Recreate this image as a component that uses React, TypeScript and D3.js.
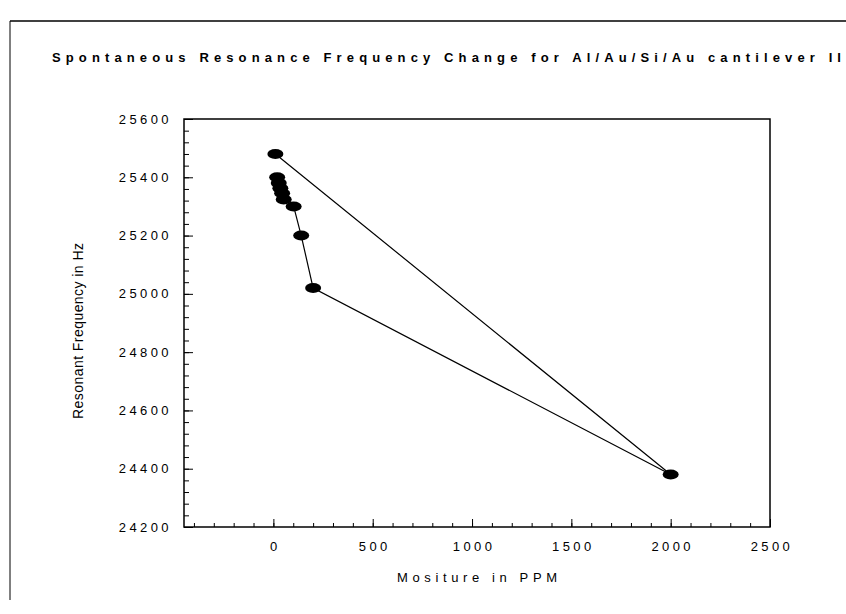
import { useEffect, useRef } from 'react';
import * as d3 from 'd3';

const titleText = 'Spontaneous Resonance Frequency Change for Al/Au/Si/Au cantilever II';
const xLabel = 'Mositure in PPM';
const yLabel = 'Resonant Frequency in Hz';

// points in the order they are joined by the line
const moisture = [10, 2000, 200, 140, 102, 52, 44, 35, 27, 19];
const frequency = [25480, 24380, 25020, 25200, 25300, 25324, 25345, 25362, 25380, 25400];

const xTicks = [0, 500, 1000, 1500, 2000, 2500];
const yTicks = [24200, 24400, 24600, 24800, 25000, 25200, 25400, 25600];

const App = () => {
  const svgRef = useRef<SVGSVGElement | null>(null);

  useEffect(() => {
    const width = 846;
    const height = 614;
    const margin = { top: 119, right: 76, bottom: 87, left: 184 };
    const w = width - margin.left - margin.right;
    const h = height - margin.top - margin.bottom;

    const svg = d3.select(svgRef.current);
    svg.selectAll('*').remove();

    const data = moisture.map((m, i) => ({ m, f: frequency[i] }));

    const x = d3.scaleLinear().domain([-450, 2500]).range([0, w]);
    const y = d3.scaleLinear().domain([24200, 25600]).range([h, 0]);

    const labelFont = 'Liberation Sans, Arial, sans-serif';

    // outer frame pieces
    svg.append('line')
      .attr('x1', 10).attr('x2', width).attr('y1', 21).attr('y2', 21)
      .attr('stroke', '#000').attr('stroke-width', 1.5);
    svg.append('line')
      .attr('x1', 10).attr('x2', 10).attr('y1', 21).attr('y2', 600)
      .attr('stroke', '#000').attr('stroke-width', 1);

    svg.append('text')
      .attr('x', 52).attr('y', 62)
      .attr('textLength', 789)
      .attr('lengthAdjust', 'spacing')
      .style('font-family', labelFont)
      .style('font-weight', 'bold')
      .style('font-size', '13px')
      .text(titleText);

    const g = svg.append('g')
      .attr('transform', `translate(${margin.left},${margin.top})`);

    // plot box
    g.append('rect')
      .attr('width', w).attr('height', h)
      .attr('fill', 'none').attr('stroke', '#000').attr('stroke-width', 1.5);

    // y ticks, pointing inward
    g.append('g')
      .call(d3.axisRight(y).tickValues(d3.range(24200, 25601, 40)).tickSize(5).tickFormat(() => ''))
      .call(a => a.select('.domain').remove());
    g.append('g')
      .call(d3.axisRight(y).tickValues(yTicks).tickSize(9).tickFormat(() => ''))
      .call(a => a.select('.domain').remove());

    // x ticks, pointing inward
    g.append('g')
      .attr('transform', `translate(0,${h})`)
      .call(d3.axisTop(x).tickValues(d3.range(-400, 2501, 100)).tickSize(4).tickFormat(() => ''))
      .call(a => a.select('.domain').remove());
    g.append('g')
      .attr('transform', `translate(0,${h})`)
      .call(d3.axisTop(x).tickValues(xTicks).tickSize(8).tickFormat(() => ''))
      .call(a => a.select('.domain').remove());

    g.selectAll('.ylab')
      .data(yTicks)
      .enter().append('text')
      .attr('class', 'ylab')
      .attr('x', -12)
      .attr('y', d => y(d))
      .attr('dy', '0.35em')
      .attr('text-anchor', 'end')
      .style('font-family', labelFont)
      .style('font-size', '13px')
      .style('letter-spacing', '3.4px')
      .text(d => d);

    g.selectAll('.xlab')
      .data(xTicks)
      .enter().append('text')
      .attr('class', 'xlab')
      .attr('x', d => x(d) + 2)
      .attr('y', h + 24)
      .attr('text-anchor', 'middle')
      .style('font-family', labelFont)
      .style('font-size', '13px')
      .style('letter-spacing', '3.4px')
      .text(d => d);

    g.append('text')
      .attr('x', w / 2 - 80)
      .attr('y', h + 55)
      .attr('textLength', 160)
      .attr('lengthAdjust', 'spacing')
      .style('font-family', labelFont)
      .style('font-size', '13px')
      .text(xLabel);

    g.append('text')
      .attr('transform', `translate(${-101},${h / 2 + 8 + 88}) rotate(-90)`)
      .attr('textLength', 176)
      .attr('lengthAdjust', 'spacing')
      .style('font-family', labelFont)
      .style('font-size', '14px')
      .text(yLabel);

    const line = d3.line<{ m: number; f: number }>()
      .x(d => x(d.m))
      .y(d => y(d.f));

    g.append('path')
      .datum(data)
      .attr('fill', 'none')
      .attr('stroke', '#000')
      .attr('stroke-width', 1.2)
      .attr('d', line);

    g.selectAll('.dot')
      .data(data)
      .enter().append('ellipse')
      .attr('class', 'dot')
      .attr('cx', d => x(d.m))
      .attr('cy', d => y(d.f))
      .attr('rx', 8)
      .attr('ry', 5)
      .attr('fill', '#000');
  }, []);

  return (
    <svg
      ref={svgRef}
      width={846}
      height={614}
      style={{ position: 'absolute', left: 0, top: 0, background: '#fff' }}
    />
  );
};

export default App;
